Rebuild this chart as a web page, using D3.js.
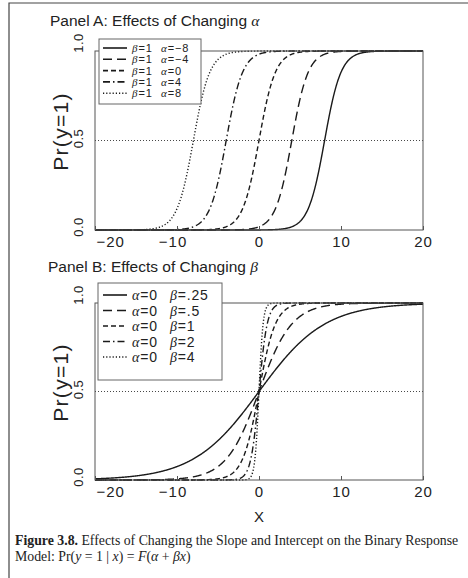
<!DOCTYPE html>
<html>
<head>
<meta charset="utf-8">
<script src="https://cdn.jsdelivr.net/npm/d3@7"></script>
<style>
  body { margin: 0; background: #fff; }
  text { font-family: "Liberation Sans", Arial, sans-serif; fill: #222; }
</style>
</head>
<body>
<script>
// parameters of the binary response model
var alphasA = [-8, -4, 0, 4, 8];      // panel A: beta fixed at 1
var betaA = 1;
var betasB = [0.25, 0.5, 1, 2, 4];    // panel B: alpha fixed at 0
var alphaB = 0;
var betaLabelsB = [".25", ".5", "1", "2", "4"];

var xTicks = [-20, -10, 0, 10, 20];
var yTicks = [0, 0.5, 1];
var yTickLabels = ["0.0", "0.5", "1.0"];

// line styles, one per series (solid, long dash, dash, dash-dot, dot)
var dashes = [null, "9,5", "5,3", "7,3,1.5,3", "1.2,2"];

var W = 468, H = 578;

var svg = d3.select("body").append("svg")
    .attr("width", W)
    .attr("height", H);

// frame of the scanned page
svg.append("path")
    .attr("d", "M9," + H + "V3H" + W)
    .attr("fill", "none")
    .attr("stroke", "#444")
    .attr("stroke-width", 1.2);

var x = d3.scaleLinear().domain([-20, 20]).range([95, 423]);
var grid = d3.range(-20, 20.001, 0.05);

// logistic cdf, F(a + b x)
function F(z) { return 1 / (1 + Math.exp(-z)); }

function greek(sel, ch) {
  sel.append("tspan")
      .style("font-family", "'Liberation Serif', serif")
      .style("font-style", "italic")
      .text(ch);
}

function drawPanel(p) {
  var y = d3.scaleLinear().domain([0, 1]).range([p.bottom, p.top]);
  var g = svg.append("g");

  // title
  var t = g.append("text")
      .attr("x", p.titleX)
      .attr("y", p.titleY)
      .attr("font-size", 15.5)
      .text(p.title);
  greek(t, p.titleGreek);

  // dotted line at .5
  g.append("line")
      .attr("x1", x.range()[0]).attr("x2", x.range()[1])
      .attr("y1", y(0.5)).attr("y2", y(0.5))
      .attr("stroke", "#333")
      .attr("stroke-width", 0.9)
      .attr("stroke-dasharray", "1,2");

  // curves
  var line = d3.line()
      .x(function(d) { return x(d[0]); })
      .y(function(d) { return y(d[1]); });

  p.series.forEach(function(s, i) {
    g.append("path")
        .datum(grid.map(function(v) { return [v, F(s.a + s.b * v)]; }))
        .attr("d", line)
        .attr("fill", "none")
        .attr("stroke", "#1a1a1a")
        .attr("stroke-width", 1.4)
        .attr("stroke-dasharray", dashes[i]);
  });

  // plot box
  g.append("rect")
      .attr("x", x.range()[0])
      .attr("y", p.top)
      .attr("width", x.range()[1] - x.range()[0])
      .attr("height", p.bottom - p.top)
      .attr("fill", "none")
      .attr("stroke", "#555")
      .attr("stroke-width", 1);

  // x axis
  var ax = g.append("g")
      .attr("transform", "translate(0," + p.bottom + ")")
      .call(d3.axisBottom(x).tickValues(xTicks)
          .tickSizeInner(-4).tickSizeOuter(0).tickPadding(6));
  ax.select(".domain").remove();
  ax.selectAll("line").attr("stroke", "#555");
  ax.selectAll("text")
      .attr("font-size", 15)
      .attr("letter-spacing", 1)
      .attr("font-family", "'Liberation Sans', Arial, sans-serif")
      .attr("fill", "#222")
      .attr("text-anchor", function(d, i) { return i === 0 ? "start" : "middle"; })
      .attr("dx", function(d, i) { return i === 0 ? 1 : (d < 0 ? -4.5 : 0); });

  // y tick labels, rotated
  var yOff = [-3, -2, -8];
  yTicks.forEach(function(v, i) {
    g.append("text")
        .attr("transform", "translate(83," + (y(v) + yOff[i]) + ") rotate(-90)")
        .attr("text-anchor", "middle")
        .attr("font-size", 13)
        .attr("letter-spacing", 0.5)
        .text(yTickLabels[i]);
  });

  // y axis title
  g.append("text")
      .attr("transform", "translate(68," + ((p.top + p.bottom) / 2 - 9) + ") rotate(-90)")
      .attr("text-anchor", "middle")
      .attr("font-size", 21)
      .attr("letter-spacing", 1.3)
      .text("Pr(y=1)");

  // legend
  var lg = g.append("g");
  lg.append("rect")
      .attr("x", p.legend.x).attr("y", p.legend.y)
      .attr("width", p.legend.w).attr("height", p.legend.h)
      .attr("fill", "#fff")
      .attr("stroke", "#666")
      .attr("stroke-width", 1);

  p.series.forEach(function(s, i) {
    var ry = p.legend.row0 + i * p.legend.step;
    lg.append("line")
        .attr("x1", 103).attr("x2", 127)
        .attr("y1", ry).attr("y2", ry)
        .attr("stroke", "#1a1a1a")
        .attr("stroke-width", 1.6)
        .attr("stroke-dasharray", dashes[i]);
    var t1 = lg.append("text")
        .attr("x", 132).attr("y", ry + p.legend.fs * 0.36)
        .attr("font-size", p.legend.fs)
        .attr("letter-spacing", p.legend.ls);
    greek(t1, s.g1);
    t1.append("tspan").text("=" + s.v1);
    var t2 = lg.append("text")
        .attr("x", p.legend.col2).attr("y", ry + p.legend.fs * 0.36)
        .attr("font-size", p.legend.fs)
        .attr("letter-spacing", p.legend.ls);
    greek(t2, s.g2);
    t2.append("tspan").text("=" + s.v2);
  });

  return y;
}

drawPanel({
  title: "Panel A: Effects of Changing ", titleGreek: "α",
  titleX: 50, titleY: 26,
  top: 51, bottom: 230,
  series: alphasA.map(function(a) {
    return { a: a, b: betaA, g1: "β", v1: String(betaA), g2: "α", v2: String(a).replace("-", "\u2212") };
  }),
  legend: { x: 99, y: 39, w: 102, h: 65, row0: 48, step: 11.3, fs: 11, ls: 0.9, col2: 161 }
});

drawPanel({
  title: "Panel B: Effects of Changing ", titleGreek: "β",
  titleX: 48, titleY: 272,
  top: 303, bottom: 480,
  series: betasB.map(function(b, i) {
    return { a: alphaB, b: b, g1: "α", v1: String(alphaB), g2: "β", v2: betaLabelsB[i] };
  }),
  legend: { x: 98, y: 283, w: 124, h: 97, row0: 295, step: 15.5, fs: 14, ls: 0.8, col2: 170 }
});

// x axis title under panel B
svg.append("text")
    .attr("x", x(0))
    .attr("y", 522)
    .attr("text-anchor", "middle")
    .attr("font-size", 15)
    .text("X");

// caption
var serif = "'Liberation Serif', 'Times New Roman', serif";
var c1 = svg.append("text")
    .attr("x", 15).attr("y", 545)
    .style("font-family", serif)
    .attr("font-size", 13.8);
c1.append("tspan").attr("font-weight", "bold").text("Figure 3.8.");
c1.append("tspan").text(" Effects of Changing the Slope and Intercept on the Binary Response");

var c2 = svg.append("text")
    .attr("x", 15).attr("y", 561)
    .style("font-family", serif)
    .attr("font-size", 13.8);
[["Model: Pr(", false], ["y", true], [" = 1 | ", false], ["x", true], [") = ", false],
 ["F", true], ["(", false], ["α", true], [" + ", false], ["βx", true], [")", false]]
  .forEach(function(p) {
    c2.append("tspan").attr("font-style", p[1] ? "italic" : "normal").text(p[0]);
  });
</script>
</body>
</html>
